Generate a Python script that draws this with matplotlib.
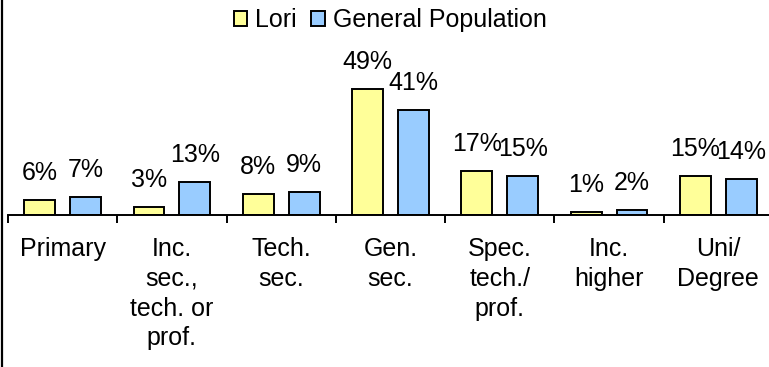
import matplotlib
matplotlib.use("Agg")
import matplotlib.pyplot as plt
from matplotlib.lines import Line2D
import numpy as np

plt.rcParams['font.family'] = ['Liberation Sans', 'DejaVu Sans']

# education level categories
categories = ["Primary", "Inc.\nsec.,\ntech. or\nprof.", "Tech.\nsec.", "Gen.\nsec.",
              "Spec.\ntech./\nprof.", "Inc.\nhigher", "Uni/\nDegree"]
lori = [6, 3, 8, 49, 17, 1, 15]
general = [7, 13, 9, 41, 15, 2, 14]

W, H = 769, 367
fig = plt.figure(figsize=(W / 100, H / 100), dpi=100)

# plot area in pixels: left edge 8, baseline at y=215, 2.57 px per percent
ymax = 60
plot_h = ymax * 2.57
ax = fig.add_axes([8 / W, (H - 215) / H, 765 / W, plot_h / H])

x = np.arange(len(categories))
bw = 0.283
off = 0.21
b1 = ax.bar(x - off, lori, bw, color="#FFFF99", edgecolor="black", linewidth=1.4, label="Lori")
b2 = ax.bar(x + off, general, bw, color="#99CCFF", edgecolor="black", linewidth=1.4, label="General Population")

for bars, vals in ((b1, lori), (b2, general)):
    for rect, v in zip(bars, vals):
        ax.annotate(f"{v}%", (rect.get_x() + rect.get_width() / 2, v),
                    xytext=(0, 14.4), textcoords="offset points",
                    ha="center", va="baseline", fontsize=18)

ax.set_xlim(-0.5, len(categories) - 0.5)
ax.set_ylim(0, ymax)

for s in ("top", "right", "left"):
    ax.spines[s].set_visible(False)
ax.spines["bottom"].set_linewidth(1.4)
ax.set_yticks([])

# category labels at centres, tick marks at boundaries
ax.set_xticks(x)
ax.set_xticklabels(categories, fontsize=18, linespacing=1.3, va="top")
ax.tick_params(axis="x", which="major", length=0, pad=16)
ax.set_xticks(np.arange(len(categories) + 1) - 0.5, minor=True)
ax.tick_params(axis="x", which="minor", length=6, width=1.4, direction="out")

fig.legend(loc="center", bbox_to_anchor=(390 / W, 1 - 20 / H), ncol=2, frameon=False,
           fontsize=18, handlelength=0.55, handleheight=0.55, handletextpad=0.3,
           columnspacing=0.6, borderpad=0)

# left border line
fig.add_artist(Line2D([2 / W, 2 / W], [0, 1], color="black", linewidth=1.6))

fig.savefig("out.png", dpi=100)
